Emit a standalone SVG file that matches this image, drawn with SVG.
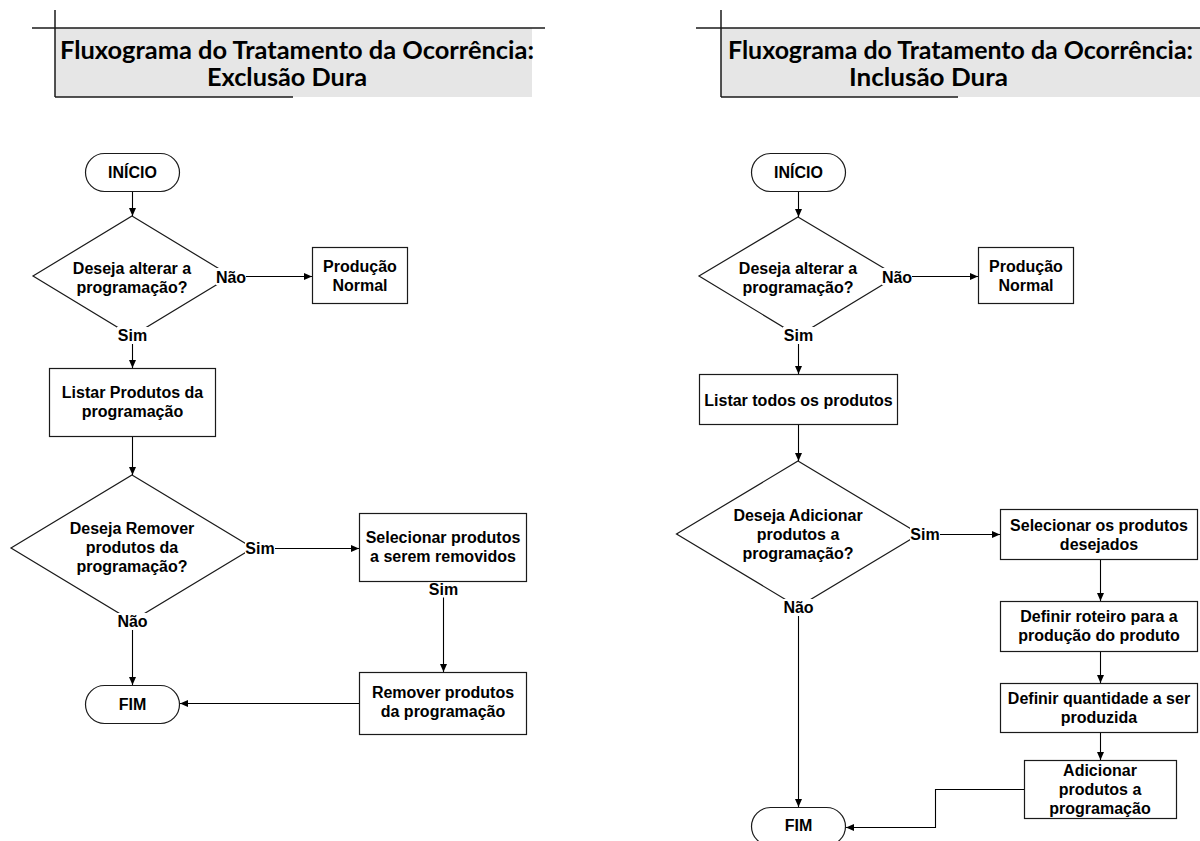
<svg xmlns="http://www.w3.org/2000/svg" width="1200" height="841" viewBox="0 0 1200 841">
  <style>
    .bg { fill: #ffffff; }
    .hdr-fill { fill: #e6e6e6; }
    .hdr-line { stroke: #1a1a1a; stroke-width: 1.5; fill: none; }
    .title { font-family: Lato, "Open Sans", "Liberation Sans", sans-serif; font-weight: 700; font-size: 24px; fill: #000; }
    .shape { fill: #ffffff; stroke: #1a1a1a; stroke-width: 1.2; }
    .txt { font-family: "Liberation Sans", Arial, sans-serif; font-weight: 700; font-size: 16px; fill: #000; text-anchor: middle; }
    .edge { stroke: #000; stroke-width: 1.1; fill: none; marker-end: url(#arrow); }
    .edge-plain { stroke: #000; stroke-width: 1.1; fill: none; }
    .lbl-bg { fill: #ffffff; }
  </style>
  <defs>
    <marker id="arrow" markerUnits="userSpaceOnUse" markerWidth="9" markerHeight="8" refX="8" refY="3.5" orient="auto">
      <path d="M0,0 L8,3.5 L0,7 z" fill="#000"/>
    </marker>
  </defs>

  <rect class="bg" x="0" y="0" width="1200" height="841"/>

  <!-- Title block: Exclusão Dura -->
  <g id="header-exclusao">
    <rect class="hdr-fill" x="55" y="28" width="477" height="69"/>
    <line class="hdr-line" x1="32" y1="28" x2="545" y2="28"/>
    <line class="hdr-line" x1="55" y1="10" x2="55" y2="97"/>
    <line class="hdr-line" x1="55" y1="97" x2="293" y2="97"/>
    <text class="title" x="60" y="59" textLength="474" lengthAdjust="spacingAndGlyphs">Fluxograma do Tratamento da Ocorrência:</text>
    <text class="title" x="207" y="86" textLength="160" lengthAdjust="spacingAndGlyphs">Exclusão Dura</text>
  </g>

  <!-- Title block: Inclusão Dura -->
  <g id="header-inclusao">
    <rect class="hdr-fill" x="721" y="28" width="479" height="69"/>
    <line class="hdr-line" x1="696" y1="28" x2="1200" y2="28"/>
    <line class="hdr-line" x1="721" y1="10" x2="721" y2="97"/>
    <line class="hdr-line" x1="721" y1="97" x2="958" y2="97"/>
    <text class="title" x="728" y="59" textLength="465" lengthAdjust="spacingAndGlyphs">Fluxograma do Tratamento da Ocorrência:</text>
    <text class="title" x="849" y="86" textLength="159" lengthAdjust="spacingAndGlyphs">Inclusão Dura</text>
  </g>

  <!-- ===== Exclusão Dura flow ===== -->
  <g id="ex-inicio">
    <rect class="shape" x="85.5" y="153.5" width="94" height="38" rx="19" ry="19"/>
    <text class="txt" x="132.5" y="178">INÍCIO</text>
  </g>
  <g id="ex-decisao-alterar">
    <polygon class="shape" points="132,216 231,276 132,336 33,276"/>
    <text class="txt" x="132" y="274">Deseja alterar a</text>
    <text class="txt" x="132" y="293">programação?</text>
  </g>
  <g id="ex-producao-normal">
    <rect class="shape" x="312.5" y="247.5" width="95" height="56"/>
    <text class="txt" x="360" y="272">Produção</text>
    <text class="txt" x="360" y="291">Normal</text>
  </g>
  <g id="ex-listar">
    <rect class="shape" x="49.5" y="368.5" width="166" height="68"/>
    <text class="txt" x="132.5" y="398">Listar Produtos da</text>
    <text class="txt" x="132.5" y="417">programação</text>
  </g>
  <g id="ex-decisao-remover">
    <polygon class="shape" points="132,475 253,548 132,621 11,548"/>
    <text class="txt" x="132" y="534">Deseja Remover</text>
    <text class="txt" x="132" y="553">produtos da</text>
    <text class="txt" x="132" y="572">programação?</text>
  </g>
  <g id="ex-selecionar">
    <rect class="shape" x="359.5" y="513.5" width="167" height="68"/>
    <text class="txt" x="443" y="543">Selecionar produtos</text>
    <text class="txt" x="443" y="562">a serem removidos</text>
  </g>
  <g id="ex-remover">
    <rect class="shape" x="359.5" y="672.5" width="167" height="62"/>
    <text class="txt" x="443" y="698">Remover produtos</text>
    <text class="txt" x="443" y="717">da programação</text>
  </g>
  <g id="ex-fim">
    <rect class="shape" x="85.5" y="685.5" width="94" height="38" rx="19" ry="19"/>
    <text class="txt" x="132.5" y="710">FIM</text>
  </g>

  <!-- ===== Inclusão Dura flow ===== -->
  <g id="in-inicio">
    <rect class="shape" x="751.5" y="153.5" width="94" height="38" rx="19" ry="19"/>
    <text class="txt" x="798.5" y="178">INÍCIO</text>
  </g>
  <g id="in-decisao-alterar">
    <polygon class="shape" points="798,217 897,276 798,336 699,276"/>
    <text class="txt" x="798" y="274">Deseja alterar a</text>
    <text class="txt" x="798" y="293">programação?</text>
  </g>
  <g id="in-producao-normal">
    <rect class="shape" x="978.5" y="247.5" width="95" height="56"/>
    <text class="txt" x="1026" y="272">Produção</text>
    <text class="txt" x="1026" y="291">Normal</text>
  </g>
  <g id="in-listar">
    <rect class="shape" x="699.5" y="374.5" width="198" height="50"/>
    <text class="txt" x="798.5" y="405.5">Listar todos os produtos</text>
  </g>
  <g id="in-decisao-adicionar">
    <polygon class="shape" points="798,461 919.5,534 798,607 676.5,534"/>
    <text class="txt" x="798" y="520.5">Deseja Adicionar</text>
    <text class="txt" x="798" y="539.5">produtos a</text>
    <text class="txt" x="798" y="558.5">programação?</text>
  </g>
  <g id="in-selecionar">
    <rect class="shape" x="1000.5" y="509.5" width="197" height="50"/>
    <text class="txt" x="1099" y="530.5">Selecionar os produtos</text>
    <text class="txt" x="1099" y="549.5">desejados</text>
  </g>
  <g id="in-roteiro">
    <rect class="shape" x="1000.5" y="601.5" width="197" height="50"/>
    <text class="txt" x="1099" y="622">Definir roteiro para a</text>
    <text class="txt" x="1099" y="641">produção do produto</text>
  </g>
  <g id="in-quantidade">
    <rect class="shape" x="1000.5" y="683.5" width="197" height="49"/>
    <text class="txt" x="1099" y="704">Definir quantidade a ser</text>
    <text class="txt" x="1099" y="723">produzida</text>
  </g>
  <g id="in-adicionar">
    <rect class="shape" x="1024.5" y="760.5" width="152" height="58"/>
    <text class="txt" x="1100" y="775.5">Adicionar</text>
    <text class="txt" x="1100" y="794.5">produtos a</text>
    <text class="txt" x="1100" y="813.5">programação</text>
  </g>
  <g id="in-fim">
    <rect class="shape" x="751.5" y="807.5" width="94" height="38" rx="19" ry="19"/>
    <text class="txt" x="798.5" y="830.5">FIM</text>
  </g>

  <!-- Connectors with their branch labels -->
  <g id="connectors">
    <!-- Exclusão Dura -->
    <line class="edge" x1="132.5" y1="192" x2="132.5" y2="216"/>
    <line class="edge" x1="246" y1="276.5" x2="312" y2="276.5"/>
    <line class="edge" x1="132.5" y1="344" x2="132.5" y2="368"/>
    <line class="edge" x1="132.5" y1="437" x2="132.5" y2="475"/>
    <line class="edge" x1="275" y1="548.5" x2="359" y2="548.5"/>
    <line class="edge" x1="443.5" y1="597" x2="443.5" y2="672"/>
    <line class="edge" x1="132.5" y1="630" x2="132.5" y2="685"/>
    <line class="edge" x1="359" y1="703.5" x2="180" y2="703.5"/>

    <!-- Inclusão Dura -->
    <line class="edge" x1="798.5" y1="192" x2="798.5" y2="217"/>
    <line class="edge" x1="912" y1="276.5" x2="978" y2="276.5"/>
    <line class="edge" x1="798.5" y1="344" x2="798.5" y2="374"/>
    <line class="edge" x1="798.5" y1="425" x2="798.5" y2="461"/>
    <line class="edge" x1="940" y1="534.5" x2="1000" y2="534.5"/>
    <line class="edge" x1="1100.5" y1="560" x2="1100.5" y2="601"/>
    <line class="edge" x1="1100.5" y1="652" x2="1100.5" y2="683"/>
    <line class="edge" x1="1100.5" y1="733" x2="1100.5" y2="760"/>
    <line class="edge" x1="798.5" y1="616" x2="798.5" y2="807"/>
    <polyline class="edge" points="1024,789.5 935.5,789.5 935.5,827.5 846,827.5"/>

    <!-- branch labels (white backing hides the line ends beneath) -->
    <rect class="lbl-bg" x="216" y="268" width="30" height="17"/>
    <text class="txt" x="231" y="282.5">Não</text>
    <rect class="lbl-bg" x="117" y="327" width="31" height="17"/>
    <text class="txt" x="132.5" y="341">Sim</text>
    <rect class="lbl-bg" x="245" y="540" width="30" height="17"/>
    <text class="txt" x="260" y="554">Sim</text>
    <rect class="lbl-bg" x="428" y="582.5" width="31" height="15"/>
    <text class="txt" x="443.5" y="595">Sim</text>
    <rect class="lbl-bg" x="116" y="613" width="33" height="17"/>
    <text class="txt" x="132.5" y="627">Não</text>

    <rect class="lbl-bg" x="882" y="268" width="30" height="17"/>
    <text class="txt" x="897" y="282.5">Não</text>
    <rect class="lbl-bg" x="783" y="327" width="31" height="17"/>
    <text class="txt" x="798.5" y="341">Sim</text>
    <rect class="lbl-bg" x="910" y="526" width="30" height="17"/>
    <text class="txt" x="925" y="540">Sim</text>
    <rect class="lbl-bg" x="782" y="599" width="33" height="17"/>
    <text class="txt" x="798.5" y="613">Não</text>
  </g>
</svg>
